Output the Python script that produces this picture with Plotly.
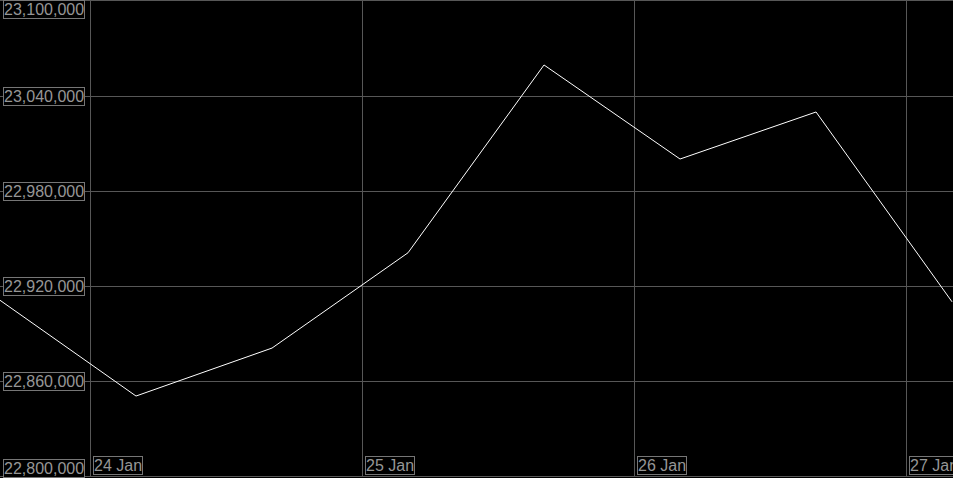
import plotly.graph_objects as go

times = ["2024-01-23 16:00", "2024-01-24 04:00", "2024-01-24 16:00", "2024-01-25 04:00",
         "2024-01-25 16:00", "2024-01-26 04:00", "2024-01-26 16:00", "2024-01-27 04:00"]
values = [22911000, 22850500, 22880800, 22941000, 23059600, 23000200, 23029900, 22910000]

y_ticks = [22800000, 22860000, 22920000, 22980000, 23040000, 23100000]
y_tick_labels = ["22,800,000", "22,860,000", "22,920,000", "22,980,000", "23,040,000", "23,100,000"]
x_ticks = ["2024-01-24", "2024-01-25", "2024-01-26", "2024-01-27"]
x_tick_labels = ["24 Jan", "25 Jan", "26 Jan", "27 Jan"]

GRID = "#575757"
TXT = "#969696"
BOX = "#767676"
FONT = "Liberation Sans, Arial, sans-serif"

fig = go.Figure()
fig.add_trace(go.Scatter(x=times, y=values, mode="lines",
                         line=dict(color="#ffffff", width=1), hoverinfo="x+y"))

annotations = []
for i, (v, t) in enumerate(zip(y_ticks, y_tick_labels)):
    if i == 0:
        ya, ys = "bottom", -2
    elif i == len(y_ticks) - 1:
        ya, ys = "top", 1
    else:
        ya, ys = "middle", 0
    annotations.append(dict(x=0, xref="paper", y=v, yref="y", text=t, showarrow=False,
                            xanchor="left", yanchor=ya, xshift=3, yshift=ys,
                            font=dict(family=FONT, size=16, color=TXT),
                            bgcolor="#000000", bordercolor=BOX, borderwidth=1, borderpad=0))
for d, t in zip(x_ticks, x_tick_labels):
    annotations.append(dict(x=d, xref="x", y=0, yref="paper", text=t, showarrow=False,
                            xanchor="left", yanchor="bottom", xshift=2, yshift=1,
                            font=dict(family=FONT, size=16, color=TXT),
                            bgcolor="#000000", bordercolor=BOX, borderwidth=1, borderpad=0))

fig.update_layout(
    width=953, height=478,
    margin=dict(l=0, r=0, t=1, b=2),
    paper_bgcolor="#000000", plot_bgcolor="#000000",
    showlegend=False,
    annotations=annotations,
    xaxis=dict(range=["2024-01-23 16:00", "2024-01-27 04:05"], tickvals=x_ticks,
               showticklabels=False, showgrid=True, gridcolor=GRID, gridwidth=1,
               zeroline=False, showline=True, linecolor=GRID, mirror=True, ticks=""),
    yaxis=dict(range=[22800000, 23100000], tickvals=y_ticks,
               showticklabels=False, showgrid=True, gridcolor=GRID, gridwidth=1,
               zeroline=False, showline=False, ticks=""),
)

fig.write_html("out.html", config={"displayModeBar": False},
               post_script="document.body.style.margin='0';document.body.style.background='#000';")
